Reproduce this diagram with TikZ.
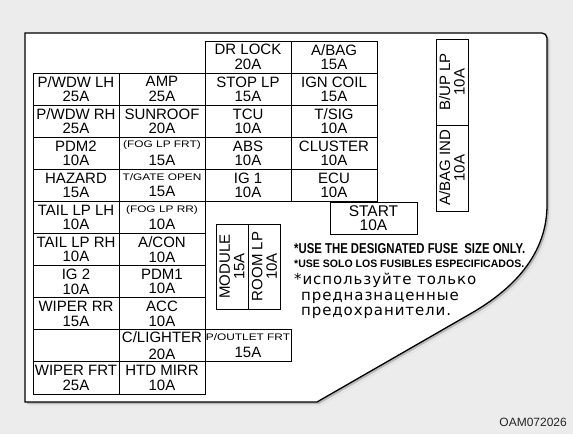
\documentclass[tikz,border=0pt]{standalone}
\usepackage{fontspec}
\usepackage{graphicx}
\setmainfont{Liberation Sans}
\newfontfamily\rufont[LetterSpace=6]{DejaVu Sans}
\usetikzlibrary{positioning}

\definecolor{bggray}{RGB}{236,236,236}

\newcommand\fusefont{\fontsize{15}{14.5}\selectfont}
\newcommand\smalllbl[1]{\scalebox{1.25}[1]{\fontsize{9.5}{10}\selectfont #1}}

\begin{document}
\begin{tikzpicture}[x=1pt, y=-1pt,
    fuse/.style = {
      draw,
      line width = 0.9pt,
      minimum width = 86pt,
      minimum height = 32.1pt,
      inner sep = 0pt,
      outer sep = 0pt,
      align = center,
      font = \fusefont
    },
    tallfuse/.style = {fuse, rotate=90, minimum width=85pt, minimum height=32pt},
    note/.style = {anchor=base west, inner sep=0pt}
  ]

  \fill[bggray] (0,0) rectangle (573,434);
  \useasboundingbox (0,0) rectangle (573,434);

  % card with its shadow
  \foreach \s/\fc/\dc in {4/black!10/none, 2/black!28/none, 0/white/black}
    \filldraw[fill=\fc, draw=\dc, line width=1.3pt, shift={(\s,\s)}]
      (25,402) -- (25,33) [rounded corners=5pt] -- (547,33) -- (547,120)
      [sharp corners] -- (547,205) .. controls (547,260) and (505,294) .. (470,314)
      -- (317,402) -- cycle;

  % left block
  \foreach \lbl [count=\i from 0] in {{P/WDW LH\\25A}, {P/WDW RH\\25A}, {PDM2\\10A},
      {HAZARD\\15A}, {TAIL LP LH\\10A}, {TAIL LP RH\\10A}, {IG 2\\10A},
      {WIPER RR\\15A}, {}, {WIPER FRT\\25A}}
    \node[fuse] (la\i) at (76, 89.05+32.1*\i) {\lbl};
  \foreach \lbl [count=\i from 0] in {{AMP\\25A}, {SUNROOF\\20A},
      {\smalllbl{(FOG LP FRT)}\\[3pt]15A}, {\smalllbl{T/GATE OPEN}\\[2pt]15A},
      {\smalllbl{(FOG LP RR)}\\[3pt]10A}, {A/CON\\10A}, {PDM1\\10A}, {ACC\\10A},
      {C/LIGHTER\\[2pt]20A}, {HTD MIRR\\10A}}
    \node[fuse] (lb\i) at (162, 89.05+32.1*\i) {\lbl};
  \node[fuse, right=0pt of lb8] (poutlet) {\smalllbl{P/OUTLET FRT}\\[3pt]15A};

  % middle block
  \foreach \lbl [count=\i from 0] in {{DR LOCK\\20A}, {STOP LP\\15A}, {TCU\\10A},
      {ABS\\10A}, {IG 1\\10A}}
    \node[fuse] (ma\i) at (248, 57.05+32.1*\i) {\lbl};
  \foreach \lbl [count=\i from 0] in {{A/BAG\\15A}, {IGN COIL\\15A}, {T/SIG\\10A},
      {CLUSTER\\10A}, {ECU\\10A}}
    \node[fuse] (mb\i) at (334, 57.05+32.1*\i) {\lbl};

  \node[fuse, minimum width=87pt, font=\fontsize{15.5}{14}\selectfont] (start) at (373.5,218) {START\\10A};

  % upright fuses
  \node[tallfuse] (module) at (232,266.5) {MODULE\\15A};
  \node[tallfuse] (roomlp) at (264.5,266.5) {ROOM LP\\10A};
  \node[tallfuse, minimum width=86pt] (buplp) at (452,82) {B/UP LP\\10A};
  \node[tallfuse, minimum width=86pt] (abagind) at (452,168) {A/BAG IND\\10A};

  % notes
  \node[note, font=\bfseries] (note1) at (294,253) {\resizebox{231pt}{10pt}{*USE THE DESIGNATED FUSE\ \ SIZE ONLY.}};
  \node[note, font=\bfseries] (note2) at (294,267) {\resizebox{230pt}{7.5pt}{*USE SOLO LOS FUSIBLES ESPECIFICADOS.}};
  \node[note, font=\rufont\fontsize{15}{15}\selectfont] (ru1) at (294,284.5) {*используйте только};
  \node[note, font=\rufont\fontsize{15}{15}\selectfont] (ru2) at (301,300) {предназнаценные};
  \node[note, font=\rufont\fontsize{15}{15}\selectfont] (ru3) at (301,315) {предохранители.};

  \node[anchor=base east, inner sep=0pt, font=\fontsize{12}{12}\selectfont, text=black!85] (code) at (567,426) {OAM072026};

\end{tikzpicture}
\end{document}
